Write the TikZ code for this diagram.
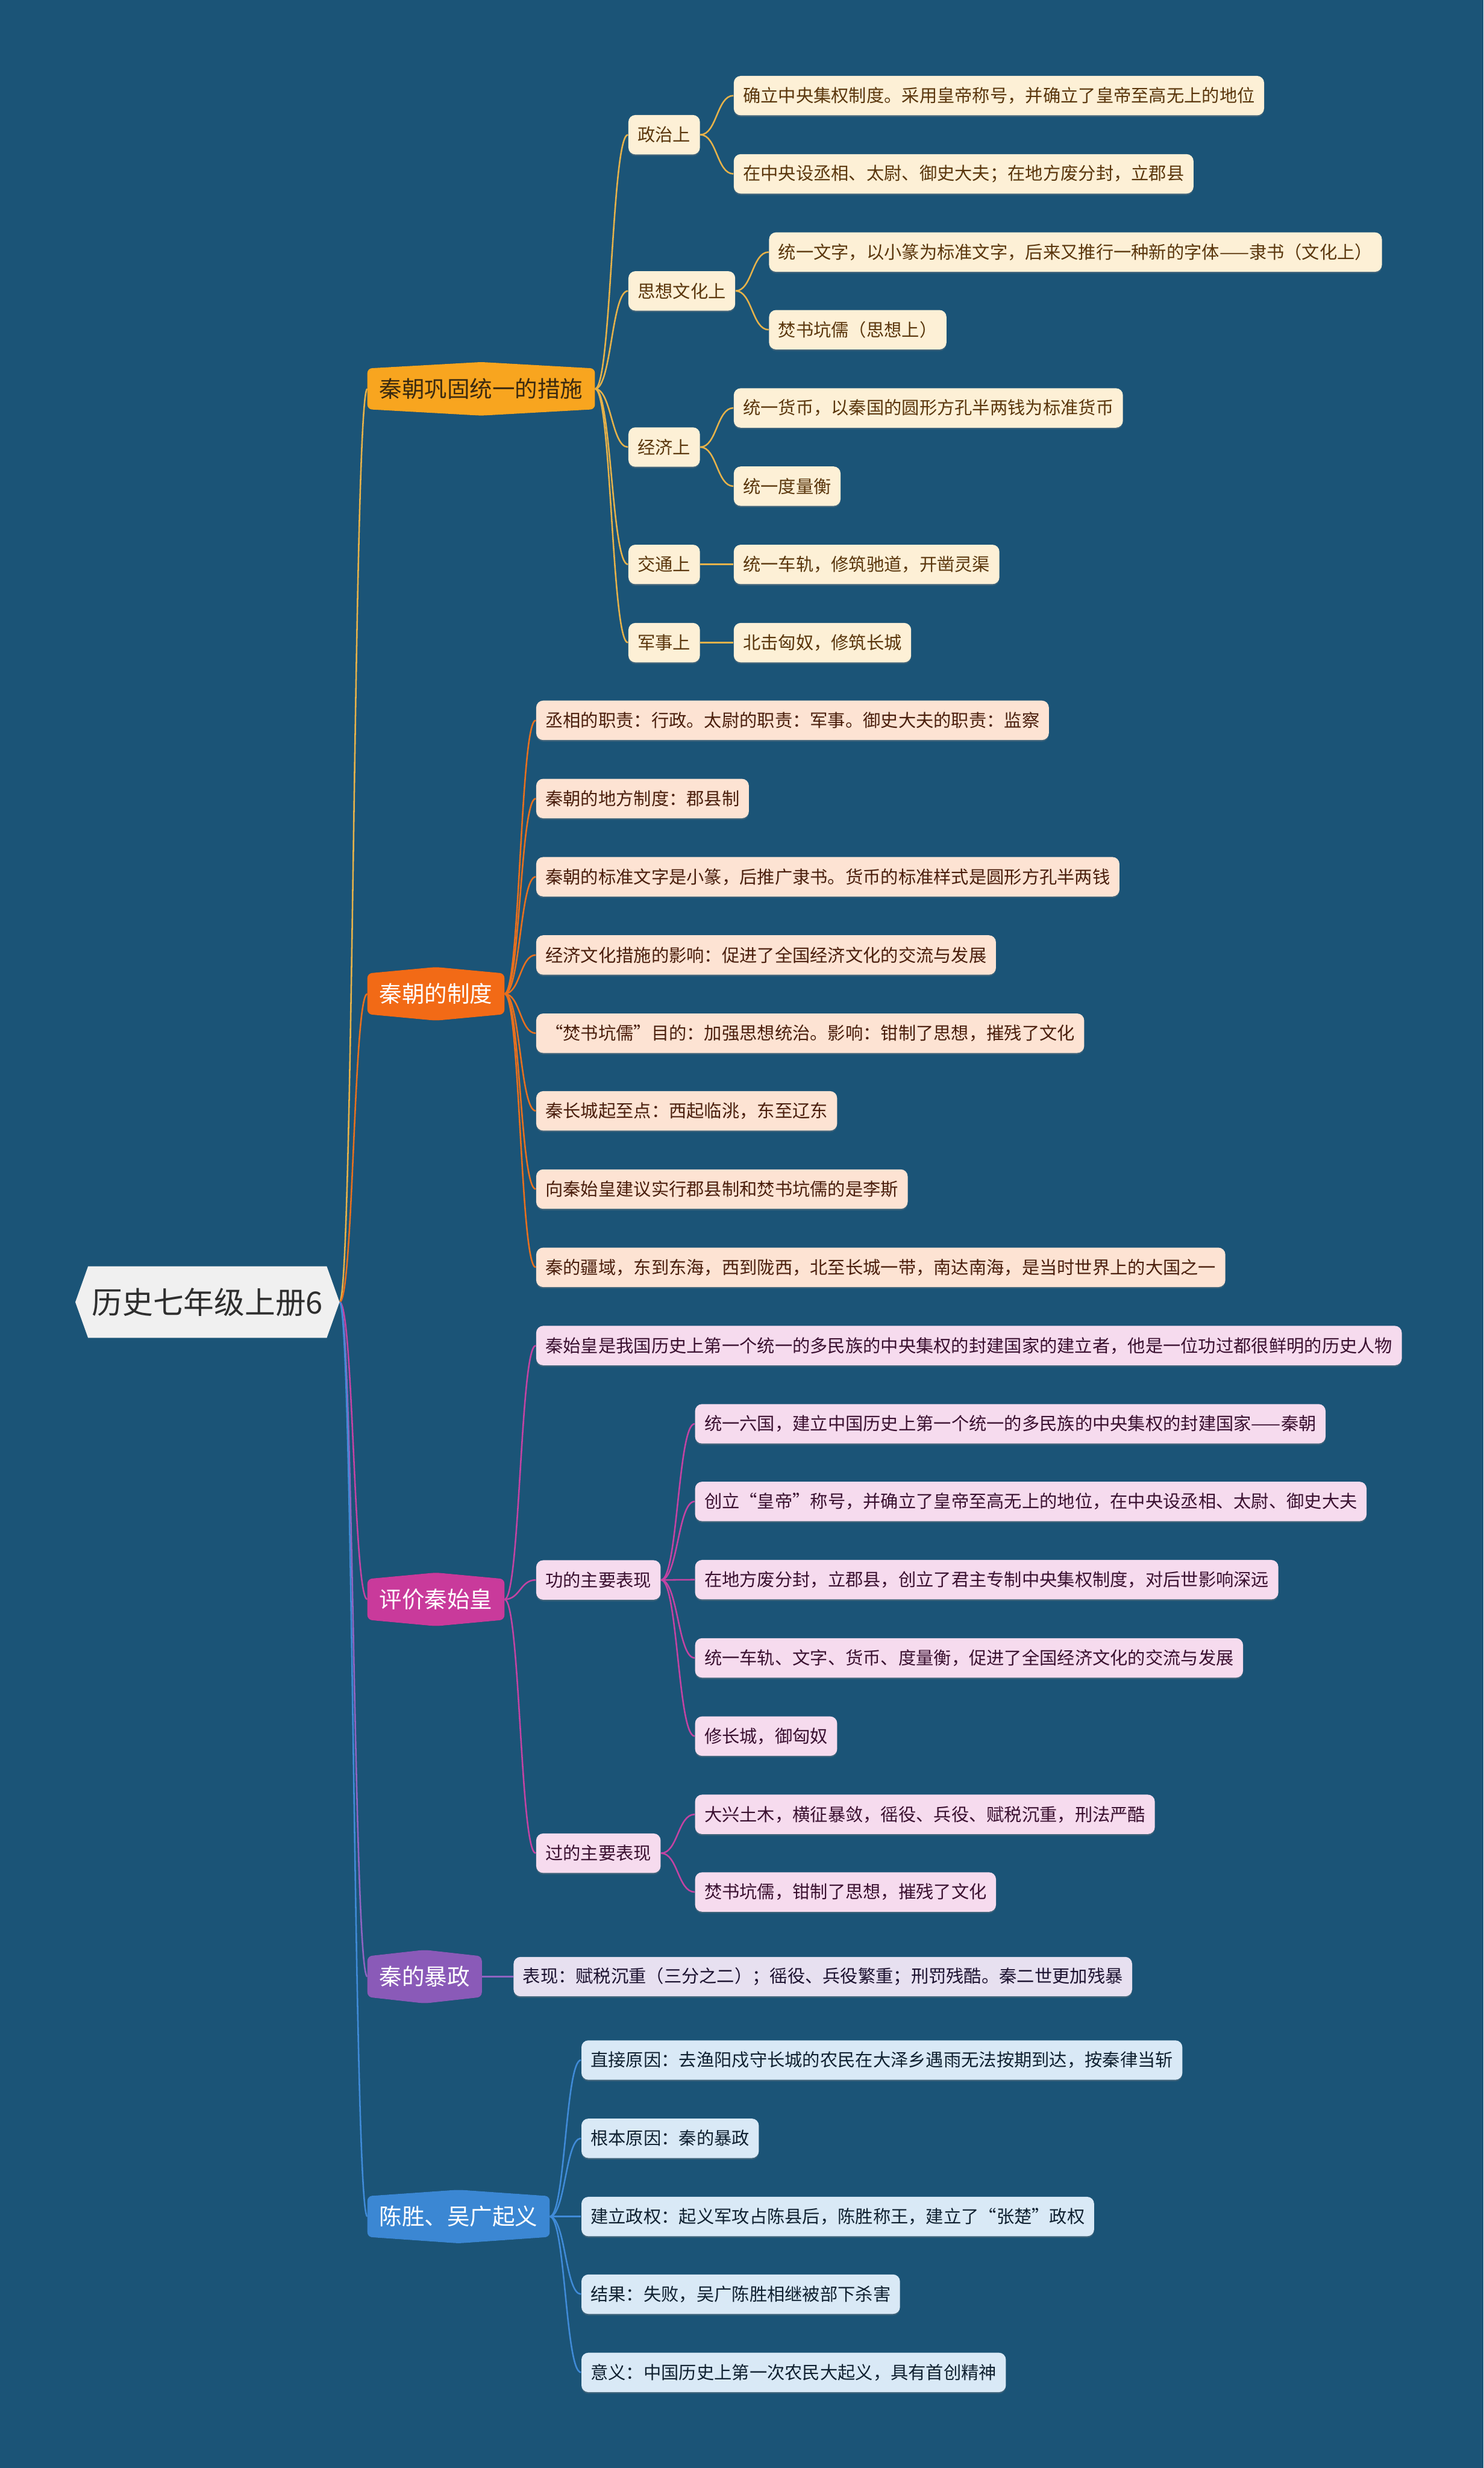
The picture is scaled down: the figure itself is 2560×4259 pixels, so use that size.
\documentclass[tikz,border=0pt]{standalone}
\usepackage{fontspec}
\setmainfont{Noto Sans CJK SC}
\usetikzlibrary{calc,shadows}
\definecolor{bgc}{HTML}{1B5477}
\definecolor{rootfill}{HTML}{F0F0F0}
\definecolor{roottxt}{HTML}{2E2E2E}
% branch 1
\definecolor{hA}{HTML}{F8A51F}
\definecolor{htA}{HTML}{3B2A10}
\definecolor{eA}{HTML}{E6B24A}
\definecolor{fA}{HTML}{FDF0D6}
\definecolor{tA}{HTML}{5A360C}
% branch 2
\definecolor{hB}{HTML}{F26A16}
\definecolor{eB}{HTML}{E8701E}
\definecolor{fB}{HTML}{FDE3D3}
\definecolor{tB}{HTML}{4A1E0C}
% branch 3
\definecolor{hC}{HTML}{C93A9B}
\definecolor{eC}{HTML}{C443A3}
\definecolor{fC}{HTML}{F6DBEE}
\definecolor{tC}{HTML}{3A1030}
% branch 4
\definecolor{hD}{HTML}{8A5AB8}
\definecolor{eD}{HTML}{9064C2}
\definecolor{fD}{HTML}{E7E0F0}
\definecolor{tD}{HTML}{1C1230}
% branch 5
\definecolor{hE}{HTML}{3B87D3}
\definecolor{eE}{HTML}{408BD8}
\definecolor{fE}{HTML}{D9E9F6}
\definecolor{tE}{HTML}{0F2030}
\pgfdeclarelayer{bgl}
\pgfdeclarelayer{edges}
\pgfdeclarelayer{shapes}
\pgfsetlayers{bgl,edges,shapes,main}
\tikzset{
  leafbase/.style={rectangle, rounded corners=0.12cm, inner xsep=0.16cm, inner ysep=0pt,
    minimum height=0.68cm, font=\fontsize{8.66pt}{10pt}\selectfont, anchor=west,
    drop shadow={shadow xshift=0pt, shadow yshift=-0.7pt, opacity=0.35}},
  lfA/.style={leafbase, fill=fA, text=tA},
  lfB/.style={leafbase, fill=fB, text=tB},
  lfC/.style={leafbase, fill=fC, text=tC},
  lfD/.style={leafbase, fill=fD, text=tD},
  lfE/.style={leafbase, fill=fE, text=tE},
  topbase/.style={rectangle, inner xsep=0.2cm, inner ysep=0pt, minimum height=0.69cm,
    font=\fontsize{11.1pt}{13pt}\selectfont, anchor=west},
  rootnode/.style={rectangle, inner xsep=0.06cm, inner ysep=0pt, minimum height=1.22cm,
    font=\fontsize{15pt}{18pt}\selectfont, anchor=west, text=roottxt},
  edgebase/.style={line width=0.75pt},
  egA/.style={edgebase, draw=eA},
  egB/.style={edgebase, draw=eB},
  egC/.style={edgebase, draw=eC},
  egD/.style={edgebase, draw=eD},
  egE/.style={edgebase, draw=eE},
}
\newcommand{\lnk}[3]{\draw[#1] let \p1=(#2), \p2=(#3) in (\p1) .. controls ({0.5*\x1+0.5*\x2},\y1) and ({0.5*\x1+0.5*\x2},\y2) .. (\p2);}
\newcommand{\hexbg}[2]{%
  \begin{pgfonlayer}{shapes}
  \fill[black, opacity=0.25, rounded corners=0.08cm, yshift=-0.035cm] (#1.south west) -- (#1.north west) -- ([yshift=0.11cm]#1.north) -- (#1.north east) -- (#1.south east) -- ([yshift=-0.11cm]#1.south) -- cycle;
  \fill[#2, rounded corners=0.08cm] (#1.south west) -- (#1.north west) -- ([yshift=0.11cm]#1.north) -- (#1.north east) -- (#1.south east) -- ([yshift=-0.11cm]#1.south) -- cycle;
  \end{pgfonlayer}}
\begin{document}
\begin{tikzpicture}[x=0.01cm, y=-0.01cm]
\useasboundingbox (0,0) rectangle (2560,4259);
\begin{pgfonlayer}{bgl}
\fill[bgc] (0,0) rectangle (2560,4259);
\end{pgfonlayer}

% root
\node[rootnode] (root) at (152,2247) {历史七年级上册6};
\begin{pgfonlayer}{shapes}
\fill[rootfill] (root.north west) -- (root.north east) -- ([xshift=0.22cm]root.east) -- (root.south east) -- (root.south west) -- ([xshift=-0.22cm]root.west) -- cycle;
\end{pgfonlayer}
\coordinate (rootR) at ([xshift=0.22cm]root.east);

% level 1
\node[topbase, text=htA] (b1) at (634,671) {秦朝巩固统一的措施};
\node[topbase, text=white] (b2) at (634,1715) {秦朝的制度};
\node[topbase, text=white] (b3) at (634,2760) {评价秦始皇};
\node[topbase, text=white] (b4) at (634,3411) {秦的暴政};
\node[topbase, text=white] (b5) at (634,3825) {陈胜、吴广起义};
\hexbg{b1}{hA}
\hexbg{b2}{hB}
\hexbg{b3}{hC}
\hexbg{b4}{hD}
\hexbg{b5}{hE}

% branch 1
\node[lfA, xshift=0.57cm] (z1) at (b1.east |- 0,232.5) {政治上};
\node[lfA, xshift=0.57cm] (z2) at (b1.east |- 0,502) {思想文化上};
\node[lfA, xshift=0.57cm] (z3) at (b1.east |- 0,771.5) {经济上};
\node[lfA, xshift=0.57cm] (z4) at (b1.east |- 0,974) {交通上};
\node[lfA, xshift=0.57cm] (z5) at (b1.east |- 0,1109) {军事上};
\node[lfA, xshift=0.57cm] (a1) at (z1.east |- 0,165) {确立中央集权制度。采用皇帝称号，并确立了皇帝至高无上的地位};
\node[lfA, xshift=0.57cm] (a2) at (z1.east |- 0,300) {在中央设丞相、太尉、御史大夫；在地方废分封，立郡县};
\node[lfA, xshift=0.57cm] (a3) at (z2.east |- 0,435) {统一文字，以小篆为标准文字，后来又推行一种新的字体——隶书（文化上）};
\node[lfA, xshift=0.57cm] (a4) at (z2.east |- 0,569) {焚书坑儒（思想上）};
\node[lfA, xshift=0.57cm] (a5) at (z3.east |- 0,704) {统一货币，以秦国的圆形方孔半两钱为标准货币};
\node[lfA, xshift=0.57cm] (a6) at (z3.east |- 0,839) {统一度量衡};
\node[lfA, xshift=0.57cm] (a7) at (z4.east |- 0,974) {统一车轨，修筑驰道，开凿灵渠};
\node[lfA, xshift=0.57cm] (a8) at (z5.east |- 0,1109) {北击匈奴，修筑长城};

% branch 2
\node[lfB, xshift=0.54cm] (c1) at (b2.east |- 0,1243) {丞相的职责：行政。太尉的职责：军事。御史大夫的职责：监察};
\node[lfB, xshift=0.54cm] (c2) at (b2.east |- 0,1378) {秦朝的地方制度：郡县制};
\node[lfB, xshift=0.54cm] (c3) at (b2.east |- 0,1513) {秦朝的标准文字是小篆，后推广隶书。货币的标准样式是圆形方孔半两钱};
\node[lfB, xshift=0.54cm] (c4) at (b2.east |- 0,1648) {经济文化措施的影响：促进了全国经济文化的交流与发展};
\node[lfB, xshift=0.54cm] (c5) at (b2.east |- 0,1783) {“焚书坑儒”目的：加强思想统治。影响：钳制了思想，摧残了文化};
\node[lfB, xshift=0.54cm] (c6) at (b2.east |- 0,1917) {秦长城起至点：西起临洮，东至辽东};
\node[lfB, xshift=0.54cm] (c7) at (b2.east |- 0,2052) {向秦始皇建议实行郡县制和焚书坑儒的是李斯};
\node[lfB, xshift=0.54cm] (c8) at (b2.east |- 0,2187) {秦的疆域，东到东海，西到陇西，北至长城一带，南达南海，是当时世界上的大国之一};

% branch 3
\node[lfC, xshift=0.54cm] (d1) at (b3.east |- 0,2322) {秦始皇是我国历史上第一个统一的多民族的中央集权的封建国家的建立者，他是一位功过都很鲜明的历史人物};
\node[lfC, xshift=0.54cm] (d2) at (b3.east |- 0,2726.5) {功的主要表现};
\node[lfC, xshift=0.54cm] (d3) at (b3.east |- 0,3198) {过的主要表现};
\node[lfC, xshift=0.58cm] (e1) at (d2.east |- 0,2457) {统一六国，建立中国历史上第一个统一的多民族的中央集权的封建国家——秦朝};
\node[lfC, xshift=0.58cm] (e2) at (d2.east |- 0,2591) {创立“皇帝”称号，并确立了皇帝至高无上的地位，在中央设丞相、太尉、御史大夫};
\node[lfC, xshift=0.58cm] (e3) at (d2.east |- 0,2726) {在地方废分封，立郡县，创立了君主专制中央集权制度，对后世影响深远};
\node[lfC, xshift=0.58cm] (e4) at (d2.east |- 0,2861) {统一车轨、文字、货币、度量衡，促进了全国经济文化的交流与发展};
\node[lfC, xshift=0.58cm] (e5) at (d2.east |- 0,2996) {修长城，御匈奴};
\node[lfC, xshift=0.58cm] (e6) at (d3.east |- 0,3131) {大兴土木，横征暴敛，徭役、兵役、赋税沉重，刑法严酷};
\node[lfC, xshift=0.58cm] (e7) at (d3.east |- 0,3265) {焚书坑儒，钳制了思想，摧残了文化};

% branch 4
\node[lfD, xshift=0.54cm] (f1) at (b4.east |- 0,3411) {表现：赋税沉重（三分之二）；徭役、兵役繁重；刑罚残酷。秦二世更加残暴};

% branch 5
\node[lfE, xshift=0.54cm] (g1) at (b5.east |- 0,3555) {直接原因：去渔阳戍守长城的农民在大泽乡遇雨无法按期到达，按秦律当斩};
\node[lfE, xshift=0.54cm] (g2) at (b5.east |- 0,3690) {根本原因：秦的暴政};
\node[lfE, xshift=0.54cm] (g3) at (b5.east |- 0,3825) {建立政权：起义军攻占陈县后，陈胜称王，建立了“张楚”政权};
\node[lfE, xshift=0.54cm] (g4) at (b5.east |- 0,3959) {结果：失败，吴广陈胜相继被部下杀害};
\node[lfE, xshift=0.54cm] (g5) at (b5.east |- 0,4094) {意义：中国历史上第一次农民大起义，具有首创精神};

% connectors
\begin{pgfonlayer}{edges}
\lnk{egA}{rootR}{b1.west}
\lnk{egB}{rootR}{b2.west}
\lnk{egC}{rootR}{b3.west}
\lnk{egD}{rootR}{b4.west}
\lnk{egE}{rootR}{b5.west}
\foreach \k in {z1,z2,z3,z4,z5} {\lnk{egA}{b1.east}{\k.west}}
\lnk{egA}{z1.east}{a1.west}
\lnk{egA}{z1.east}{a2.west}
\lnk{egA}{z2.east}{a3.west}
\lnk{egA}{z2.east}{a4.west}
\lnk{egA}{z3.east}{a5.west}
\lnk{egA}{z3.east}{a6.west}
\lnk{egA}{z4.east}{a7.west}
\lnk{egA}{z5.east}{a8.west}
\foreach \k in {c1,c2,c3,c4,c5,c6,c7,c8} {\lnk{egB}{b2.east}{\k.west}}
\foreach \k in {d1,d2,d3} {\lnk{egC}{b3.east}{\k.west}}
\foreach \k in {e1,e2,e3,e4,e5} {\lnk{egC}{d2.east}{\k.west}}
\foreach \k in {e6,e7} {\lnk{egC}{d3.east}{\k.west}}
\lnk{egD}{b4.east}{f1.west}
\foreach \k in {g1,g2,g3,g4,g5} {\lnk{egE}{b5.east}{\k.west}}
\end{pgfonlayer}
\end{tikzpicture}
\end{document}
